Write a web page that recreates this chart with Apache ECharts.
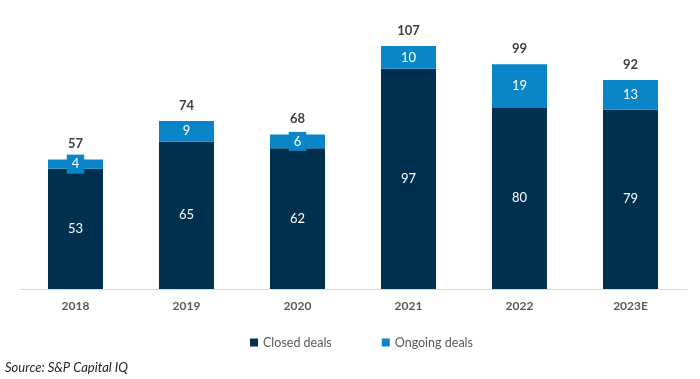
<!DOCTYPE html>
<html><head><meta charset="utf-8">
<script src="https://cdn.jsdelivr.net/npm/echarts@6/dist/echarts.min.js"></script>
<style>html,body{margin:0;padding:0;background:#fff}#c{width:700px;height:379px}</style>
</head><body><div id="c"></div>
<script>
const categories = ['2018','2019','2020','2021','2022','2023E'];
const closedDeals = [53,65,62,97,80,79];
const ongoingDeals = [4,9,6,10,19,13];
const totals = [57,74,68,107,99,92];
const totalBase = [0,0,0,0,0,0];

const DARK = '#00304F', LIGHT = '#0A86C8';
const FONT = 'Lato, "Open Sans", sans-serif';
const chart = echarts.init(document.getElementById('c'));
chart.setOption({
  animation:false,
  textStyle:{fontFamily:FONT},
  grid:{left:20,right:14,top:16.5,bottom:90,containLabel:false},
  xAxis:{type:'category',data:categories,
    axisLine:{lineStyle:{color:'#D9D9D9',width:1}},axisTick:{show:false},
    axisLabel:{color:'#595959',fontWeight:'bold',fontSize:12,margin:11,fontFamily:FONT}},
  yAxis:{type:'value',min:0,max:120,show:false,splitLine:{show:false}},
  legend:{left:245,top:331,itemWidth:8,itemHeight:8,itemGap:50,icon:'rect',
    textStyle:{color:'#595959',fontSize:12.5,fontFamily:FONT},
    data:['Closed deals','Ongoing deals']},
  graphic:[{type:'text',left:5,top:361,style:{text:'Source: S&P Capital IQ',fill:'#262626',font:'italic 13px '+FONT}}],
  series:[
    {name:'Closed deals',type:'bar',stack:'a',barWidth:55,data:closedDeals,
     itemStyle:{color:DARK},
     label:{show:true,position:'inside',color:'#fff',fontSize:13,fontFamily:FONT}},
    {name:'Ongoing deals',type:'bar',stack:'a',barWidth:55,data:ongoingDeals,
     itemStyle:{color:LIGHT},
     label:{show:true,position:'inside',color:'#fff',fontSize:13,fontFamily:FONT,
       backgroundColor:LIGHT,padding:[3,5]}},
    {name:'Total',type:'bar',stack:'a',barWidth:55,data:totalBase,
     itemStyle:{color:'transparent'},
     label:{show:true,position:'top',distance:9,color:'#404040',fontWeight:'bold',fontSize:13,fontFamily:FONT,
       formatter:p=>totals[p.dataIndex]}}
  ]
});
</script></body></html>
